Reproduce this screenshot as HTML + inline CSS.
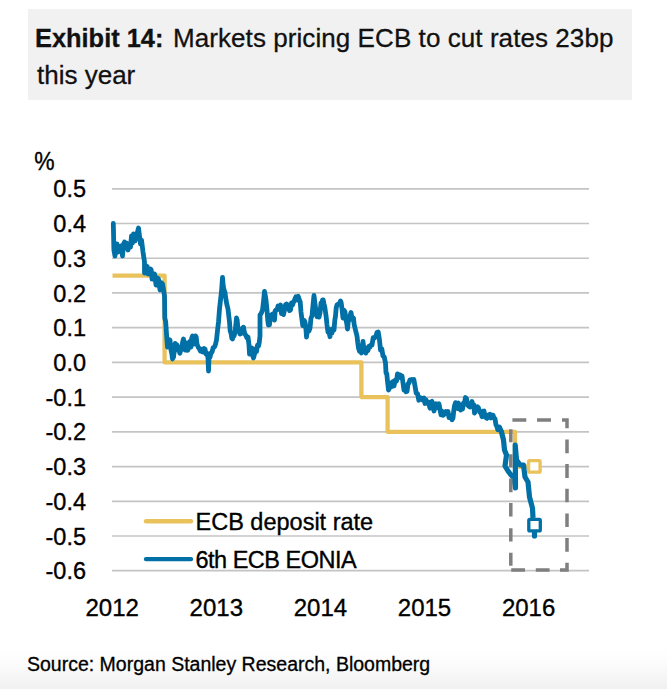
<!DOCTYPE html>
<html><head><meta charset="utf-8">
<style>
html,body{margin:0;padding:0;background:#fff;width:667px;height:689px;overflow:hidden;position:relative}
body{font-family:"Liberation Sans",sans-serif;color:#000}
.box{position:absolute;left:28px;top:9px;width:604px;height:90.5px;background:#f1f1f1}
.t{position:absolute;left:37px;white-space:nowrap;font-size:26px;line-height:30px;color:#111;-webkit-text-stroke:0.3px #111}
svg{position:absolute;left:0;top:0}
.bot{position:absolute;left:0;top:650px;width:667px;height:39px;background:linear-gradient(#fff 0%,#fafafa 45%,#f0f0f0 100%)}
</style></head><body>
<div class="bot"></div>
<div class="box"></div>
<div class="t" style="top:23px;left:35px"><b style="font-size:25.4px">Exhibit 14:</b></div>
<div class="t" style="top:23px;left:173px;letter-spacing:0.07px">Markets pricing ECB to cut rates 23bp</div>
<div class="t" style="top:60px">this year</div>
<svg width="667" height="689" viewBox="0 0 667 689">
<g stroke="#c4c4c4" stroke-width="1.7"><line x1="112" x2="589" y1="188.80" y2="188.80"/><line x1="112" x2="589" y1="223.52" y2="223.52"/><line x1="112" x2="589" y1="258.24" y2="258.24"/><line x1="112" x2="589" y1="292.96" y2="292.96"/><line x1="112" x2="589" y1="327.68" y2="327.68"/><line x1="112" x2="589" y1="362.40" y2="362.40"/><line x1="112" x2="589" y1="397.12" y2="397.12"/><line x1="112" x2="589" y1="431.84" y2="431.84"/><line x1="112" x2="589" y1="466.56" y2="466.56"/><line x1="112" x2="589" y1="501.28" y2="501.28"/><line x1="112" x2="589" y1="536.00" y2="536.00"/><line x1="112" x2="589" y1="570.72" y2="570.72"/></g>
<g font-family="Liberation Sans" font-size="23.5" text-anchor="end" fill="#000" stroke="#000" stroke-width="0.35">
<text x="0" y="0" font-size="26" text-anchor="start" transform="translate(34.2,170.2) scale(0.88,1)">%</text>
<text x="86" y="197.40">0.5</text><text x="86" y="232.12">0.4</text><text x="86" y="266.84">0.3</text><text x="86" y="301.56">0.2</text><text x="86" y="336.28">0.1</text><text x="86" y="371.00">0.0</text><text x="86" y="405.72">-0.1</text><text x="86" y="440.44">-0.2</text><text x="86" y="475.16">-0.3</text><text x="86" y="509.88">-0.4</text><text x="86" y="544.60">-0.5</text><text x="86" y="579.32">-0.6</text></g>
<g font-family="Liberation Sans" font-size="24" text-anchor="middle" fill="#000" stroke="#000" stroke-width="0.35"><text x="112.2" y="615.8">2012</text><text x="216.3" y="615.8">2013</text><text x="320.4" y="615.8">2014</text><text x="424.5" y="615.8">2015</text><text x="528.6" y="615.8">2016</text></g>
<polyline points="112.5,275.6 164.6,275.6 164.6,362.4 361.4,362.4 361.4,397.1 387.6,397.1 387.6,431.8 515.0,431.8 515.0,466.6 528.0,466.6" fill="none" stroke="#e9c25c" stroke-width="4.3" stroke-linejoin="round"/>
<polyline points="113.3,223.5 113.9,250.0 115.0,256.0 116.2,244.0 117.0,244.0 118.0,252.0 119.0,248.0 120.0,250.0 121.0,246.0 122.5,256.0 123.5,244.0 124.5,242.0 125.5,248.0 126.5,243.0 128.0,250.0 129.0,244.0 130.5,247.0 131.5,236.0 132.5,243.0 133.5,234.0 135.0,241.0 136.0,236.0 137.5,232.0 138.5,228.0 139.5,236.0 140.5,244.0 141.5,240.0 143.0,252.0 144.5,262.0 144.5,273.0 145.5,267.8 146.5,266.0 147.2,266.6 148.0,274.0 149.2,272.9 150.5,269.0 151.2,269.9 152.0,279.0 153.2,276.8 154.5,274.0 155.2,278.2 156.0,285.0 157.2,277.8 158.5,279.0 159.2,284.6 160.0,290.0 161.2,282.6 162.5,284.0 163.5,289.4 164.5,296.0 164.8,318.0 165.7,321.9 166.5,334.0 167.5,347.0 168.8,339.6 170.0,340.0 171.0,350.0 171.8,353.8 172.5,359.0 173.5,357.1 174.5,349.0 175.2,343.4 176.0,345.0 176.8,344.8 177.5,350.0 178.2,349.7 179.0,347.0 179.8,353.3 180.5,351.0 181.2,349.2 182.0,346.0 182.8,341.5 183.5,339.0 184.2,349.1 185.0,350.0 185.8,342.6 186.5,344.0 187.2,350.4 188.0,350.0 188.8,344.0 189.5,342.0 190.2,341.1 191.0,347.0 191.8,337.8 192.5,336.0 193.2,338.2 194.0,344.0 194.8,343.0 195.5,336.0 196.2,336.9 197.0,344.0 198.2,347.3 199.5,349.0 200.4,351.1 201.2,349.3 202.1,351.7 203.0,352.0 204.0,348.5 205.0,349.1 206.0,354.0 207.0,353.2 208.0,358.0 208.5,371.0 209.0,357.0 210.0,357.1 211.0,353.0 212.0,352.0 213.2,347.7 214.5,347.0 215.5,344.3 216.5,340.0 217.5,330.6 218.5,322.0 219.5,309.1 220.5,300.0 221.5,291.6 222.5,277.5 223.2,285.7 224.0,290.0 225.0,292.5 226.0,300.0 227.0,305.2 228.0,309.0 228.8,315.7 229.5,322.0 230.2,331.1 231.0,333.0 231.8,338.2 232.5,339.0 233.2,335.5 234.0,336.0 235.2,331.6 236.5,318.0 237.2,320.3 238.0,330.0 239.0,331.2 240.0,334.0 241.2,333.5 242.5,328.0 243.5,327.2 244.5,333.0 245.8,335.4 247.0,338.0 248.0,337.1 249.0,345.0 249.5,354.0 250.8,352.6 252.0,348.0 252.8,355.5 253.5,358.0 254.5,354.2 255.5,349.0 256.5,351.6 257.5,345.2 258.5,346.0 259.2,342.9 260.0,336.0 260.0,315.0 261.2,313.4 262.5,310.0 263.5,301.5 264.5,291.5 265.2,295.3 266.0,300.0 267.0,310.0 267.8,320.8 268.5,325.0 269.5,324.8 270.5,316.0 271.5,314.8 272.5,314.0 273.5,318.6 274.5,320.0 275.2,310.8 276.0,310.0 277.0,309.9 278.0,306.0 279.2,306.9 280.5,305.0 281.5,313.7 282.5,313.0 283.5,314.6 284.5,310.0 285.5,304.9 286.5,304.0 287.5,304.9 288.5,308.0 289.5,310.6 290.5,310.0 291.5,302.9 292.5,305.0 293.5,302.1 294.5,300.0 295.8,296.8 297.0,300.0 298.2,296.3 299.5,300.0 300.2,301.8 301.0,312.0 302.0,320.0 302.8,325.6 303.5,326.0 304.2,320.4 305.0,322.0 305.8,327.1 306.5,337.0 307.2,331.0 308.0,327.0 309.0,331.1 310.0,328.0 311.0,318.0 312.0,316.0 313.0,305.3 314.0,295.5 315.0,303.7 316.0,311.0 317.0,316.7 318.0,315.0 319.0,317.1 320.0,313.0 321.0,303.0 321.8,305.0 322.5,300.0 323.2,299.9 324.0,304.0 324.8,307.2 325.5,312.0 326.2,317.1 327.0,325.0 328.0,332.2 329.0,332.0 330.0,336.7 331.0,329.3 332.0,333.0 333.0,328.4 334.0,330.0 334.8,320.4 335.5,316.0 336.2,307.9 337.0,305.0 337.8,304.4 338.5,304.0 339.5,303.4 340.5,301.0 341.2,302.7 342.0,309.0 343.0,318.0 344.0,310.2 345.0,312.0 346.0,320.0 346.8,323.7 347.5,329.0 348.2,322.2 349.0,318.0 350.0,315.9 351.0,312.5 352.2,319.6 353.5,318.0 354.2,324.8 355.0,328.0 356.0,332.1 357.0,336.0 357.8,343.1 358.5,348.0 359.5,351.4 360.5,347.1 361.5,353.0 362.2,351.1 363.0,341.5 363.8,348.9 364.5,351.0 365.8,353.1 367.0,348.0 368.0,350.5 369.0,346.3 370.0,347.0 371.0,345.0 372.0,345.0 373.2,337.7 374.5,338.0 375.8,336.5 377.0,332.5 378.2,332.0 379.5,340.0 380.5,350.0 381.8,348.8 383.0,356.0 384.2,356.7 385.5,363.0 386.0,373.0 386.8,373.8 387.5,381.0 388.5,390.0 389.8,387.0 391.0,387.0 392.0,382.4 393.0,381.5 394.0,386.0 395.2,380.2 396.5,381.0 397.5,373.9 398.5,374.5 399.8,374.9 401.0,378.0 402.0,375.9 403.0,383.0 404.0,390.1 405.0,390.0 406.0,391.8 407.0,391.5 408.0,383.9 409.0,383.0 409.9,379.9 410.8,380.0 411.6,379.4 412.5,380.0 413.8,379.4 415.0,386.0 416.2,393.1 417.5,393.5 418.8,400.2 420.0,397.5 421.0,397.9 422.0,399.0 423.0,400.3 424.0,398.0 425.0,403.5 426.0,399.9 427.0,402.5 428.0,402.0 429.0,404.5 430.0,408.2 431.0,402.2 432.0,401.4 433.0,406.5 434.0,411.0 435.0,407.2 436.0,403.7 437.0,407.7 438.0,407.5 439.0,403.8 440.0,409.5 441.0,414.7 442.0,411.0 443.0,415.3 444.0,414.6 445.0,413.5 446.0,411.6 447.0,413.0 448.0,411.5 449.0,417.7 450.0,415.5 451.0,416.6 452.0,419.8 453.0,418.0 453.8,410.4 454.5,406.0 455.5,402.6 456.5,407.5 457.5,408.4 458.5,403.0 459.5,408.4 460.5,409.9 461.5,409.0 462.5,409.1 463.5,403.0 464.5,402.6 465.5,397.5 466.5,398.6 467.5,405.0 468.8,406.2 470.0,407.0 471.0,405.1 472.0,401.5 473.0,405.5 473.8,404.7 474.5,413.0 475.5,409.4 476.5,410.0 477.5,406.7 478.5,408.0 479.8,412.3 481.0,413.0 482.0,416.7 483.0,411.2 484.0,411.0 485.0,416.2 486.0,417.7 487.0,418.4 488.0,415.0 489.0,414.7 490.0,414.3 491.0,418.0 492.0,415.4 493.0,415.1 494.0,418.0 495.0,418.7 496.0,425.0 496.9,426.7 497.8,429.8 498.6,429.8 499.5,427.0 500.5,429.3 501.5,432.0" fill="none" stroke="#0070a6" stroke-width="4.8" stroke-linejoin="round" stroke-linecap="round"/>
<polyline points="501.5,432.0 503.5,440.0 504.5,450.0 506.5,455.0 505.0,466.0 508.0,471.0 511.0,475.0 514.0,478.0 515.5,488.0 515.2,445.0 516.5,460.0 520.0,465.0 523.5,465.0 525.0,477.0 528.0,482.0 529.5,497.0 531.0,502.7 532.5,508.1 533.0,518.0 534.5,525.0 534.5,535.9" fill="none" stroke="#0070a6" stroke-width="5.2" stroke-linejoin="round" stroke-linecap="round"/>
<path d="M512.4,420H526.3M537,420H551M562,420H567V428.3M567,439.4V453.3M567,464.1V478M567,488.8V502.3M567,513.5V527M567,537.9V551.7M567,562.8V570H560M511.2,570H525M535.8,570H549.6M510.8,429.2V442.2M510.8,454.3V467.5M510.8,478.6V492.2M510.8,503V516.5M510.8,528.2V541.4M510.8,552.8V565.7" fill="none" stroke="#7f7f7f" stroke-width="3.5"/>
<rect x="528.6" y="460.7" width="11.5" height="11.5" fill="#fff" stroke="#e9c25c" stroke-width="3.3" rx="1"/>
<rect x="528.8" y="519.4" width="11.5" height="11.5" fill="#fff" stroke="#0070a6" stroke-width="3.3" rx="1"/>
<line x1="146" y1="521.3" x2="191" y2="521.3" stroke="#e9c25c" stroke-width="4.4" stroke-linecap="round"/>
<line x1="146" y1="559.1" x2="191" y2="559.1" stroke="#0070a6" stroke-width="4.4" stroke-linecap="round"/>
<g font-family="Liberation Sans" font-size="23.5" fill="#000" stroke="#000" stroke-width="0.35">
<text x="195.5" y="529.7">ECB deposit rate</text>
<text x="195.5" y="567.8" letter-spacing="-0.5">6th ECB EONIA</text>
</g>
<text x="27" y="671" font-family="Liberation Sans" font-size="19.5" fill="#000" stroke="#000" stroke-width="0.3">Source: Morgan Stanley Research, Bloomberg</text>
</svg>
</body></html>
